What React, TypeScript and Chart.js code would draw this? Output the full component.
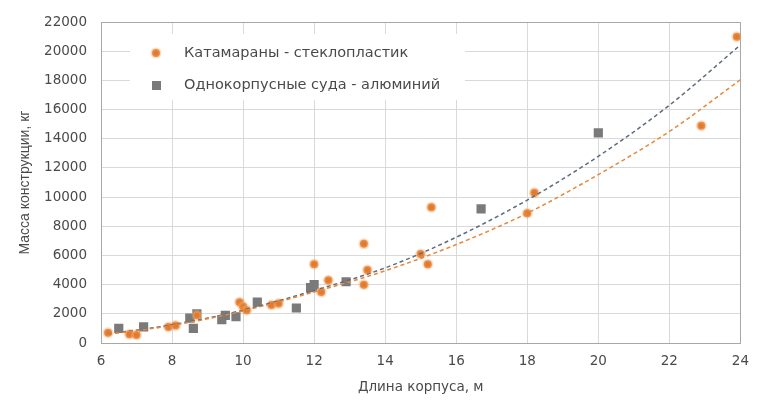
import React, { useEffect, useRef } from "react";
import { Chart, registerables } from "chart.js";

Chart.register(...registerables);

// Catamarans – fibreglass (length m, mass kg)
const catLength = [6.2, 6.8, 7.0, 7.9, 8.1, 8.7, 9.9, 10.0, 10.1, 10.8, 11.0, 12.0, 12.2, 12.4, 13.4, 13.5, 13.4, 15.0, 15.2, 15.3, 18.0, 18.2, 22.9, 23.9];
const catMass = [700, 600, 550, 1100, 1200, 1900, 2800, 2500, 2250, 2600, 2700, 5400, 3500, 4300, 4000, 5000, 6800, 6100, 5400, 9300, 8900, 10300, 14900, 21000];

// Monohulls – aluminium
const monoLength = [6.5, 7.2, 8.5, 8.7, 8.6, 9.4, 9.5, 9.8, 10.4, 11.5, 11.9, 12.0, 12.9, 16.7, 20.0];
const monoMass = [1000, 1100, 1700, 2000, 1000, 1600, 1900, 1800, 2800, 2400, 3800, 4000, 4200, 9200, 14400];

// Trend lines
const trendX = [6.2, 8, 10, 12, 14, 16, 18, 20, 22, 24];
const catTrend = [600, 1200, 2200, 3500, 4950, 6750, 8900, 11550, 14500, 18050];
const monoTrend = [620, 1250, 2250, 3600, 5150, 7250, 9800, 12800, 16300, 20430];

const seriesNames = ["Катамараны - стеклопластик", "Однокорпусные суда - алюминий"];
const xTitle = "Длина корпуса, м";
const yTitle = "Масса конструкции, кг";
const xRange = [6, 24];
const yRange = [0, 22000];

const ORANGE = "#e27a2e";
const GRAY = "#7a7a7a";
const TEXT = "#4a4a4a";
const WIDE = "'DejaVu Sans', 'Liberation Sans', Arial, sans-serif";
const NARROW = "'Liberation Sans', Arial, sans-serif";

const framePlugin = {
  id: "frame",
  beforeDatasetsDraw(chart: any) {
    const { ctx, chartArea } = chart;
    ctx.save();
    ctx.strokeStyle = "#a8a8a8";
    ctx.lineWidth = 1;
    ctx.strokeRect(Math.round(chartArea.left) + 0.5, Math.round(chartArea.top) + 0.5, Math.round(chartArea.right - chartArea.left), Math.round(chartArea.bottom - chartArea.top));
    ctx.restore();
  },
};

const legendPlugin = {
  id: "customLegend",
  afterDatasetsDraw(chart: any) {
    const { ctx } = chart;
    ctx.save();
    ctx.fillStyle = "#ffffff";
    ctx.fillRect(130, 34, 335, 66);
    ctx.beginPath();
    ctx.arc(156, 53, 4, 0, Math.PI * 2);
    ctx.fillStyle = ORANGE;
    ctx.fill();
    ctx.lineWidth = 3;
    ctx.strokeStyle = "rgba(245,170,110,0.4)";
    ctx.stroke();
    ctx.fillStyle = GRAY;
    ctx.fillRect(152, 81, 9, 9);
    ctx.font = "14.5px " + WIDE;
    ctx.fillStyle = TEXT;
    ctx.textBaseline = "middle";
    ctx.textAlign = "left";
    ctx.fillText(chart.data.datasets[0].label, 184, 53);
    ctx.fillText(chart.data.datasets[1].label, 184, 85);
    ctx.restore();
  },
};

export default function App() {
  const ref = useRef<HTMLCanvasElement>(null);

  useEffect(() => {
    if (!ref.current) return;
    const catPts = catLength.map((x, i) => ({ x, y: catMass[i] }));
    const monoPts = monoLength.map((x, i) => ({ x, y: monoMass[i] }));
    const catTrendPts = trendX.map((x, i) => ({ x, y: catTrend[i] }));
    const monoTrendPts = trendX.map((x, i) => ({ x, y: monoTrend[i] }));
    const tickFont = { family: WIDE, size: 13.5 };
    const xTitleFont = { family: WIDE, size: 13.5 };
    const yTitleFont = { family: NARROW, size: 14 };

    const chart = new Chart(ref.current, {
      type: "scatter",
      data: {
        datasets: [
          {
            label: seriesNames[0],
            data: catPts,
            pointStyle: "circle",
            pointRadius: 4,
            backgroundColor: ORANGE,
            borderColor: "rgba(245,170,110,0.4)",
            borderWidth: 3,
            order: 1,
          },
          {
            label: seriesNames[1],
            data: monoPts,
            pointStyle: "rect",
            pointRadius: 6.5,
            backgroundColor: GRAY,
            borderColor: GRAY,
            borderWidth: 0,
            order: 2,
          },
          {
            label: "trend-cat",
            type: "line",
            data: catTrendPts,
            borderColor: "#e8873a",
            borderWidth: 1.5,
            borderDash: [4, 3],
            pointRadius: 0,
            cubicInterpolationMode: "monotone",
            fill: false,
            order: 0,
          },
          {
            label: "trend-mono",
            type: "line",
            data: monoTrendPts,
            borderColor: "#5f6b7c",
            borderWidth: 1.5,
            borderDash: [4, 3],
            pointRadius: 0,
            cubicInterpolationMode: "monotone",
            fill: false,
            order: 0,
          },
        ],
      } as any,
      options: {
        animation: false,
        responsive: true,
        maintainAspectRatio: false,
        layout: { padding: { top: 20, right: 16, left: 0, bottom: 0 } },
        plugins: {
          legend: { display: false },
          tooltip: { enabled: false },
        },
        scales: {
          x: {
            type: "linear",
            min: xRange[0],
            max: xRange[1],
            ticks: { stepSize: 2, color: TEXT, font: tickFont, padding: 10, callback: (v: any) => String(v) },
            grid: { color: "#d9d9d9", drawTicks: false },
            border: { color: "#a8a8a8" },
            title: { display: true, text: xTitle, color: TEXT, font: xTitleFont, padding: { top: 0, bottom: 15 } },
            afterFit: (s: any) => { s.height = 68; },
          },
          y: {
            type: "linear",
            min: yRange[0],
            max: yRange[1],
            ticks: { stepSize: 2000, color: TEXT, font: tickFont, padding: 14, callback: (v: any) => String(v) },
            grid: { color: "#d9d9d9", drawTicks: false },
            border: { color: "#a8a8a8" },
            title: { display: true, text: yTitle, color: TEXT, font: yTitleFont, padding: { top: 17, bottom: 0 } },
            afterFit: (s: any) => { s.width = 101; },
          },
        },
      } as any,
      plugins: [framePlugin, legendPlugin],
    });
    return () => chart.destroy();
  }, []);

  return (
    <div style={{ position: "fixed", left: 0, top: 0, width: 759, height: 411, background: "#fff" }}>
      <canvas ref={ref} />
    </div>
  );
}
